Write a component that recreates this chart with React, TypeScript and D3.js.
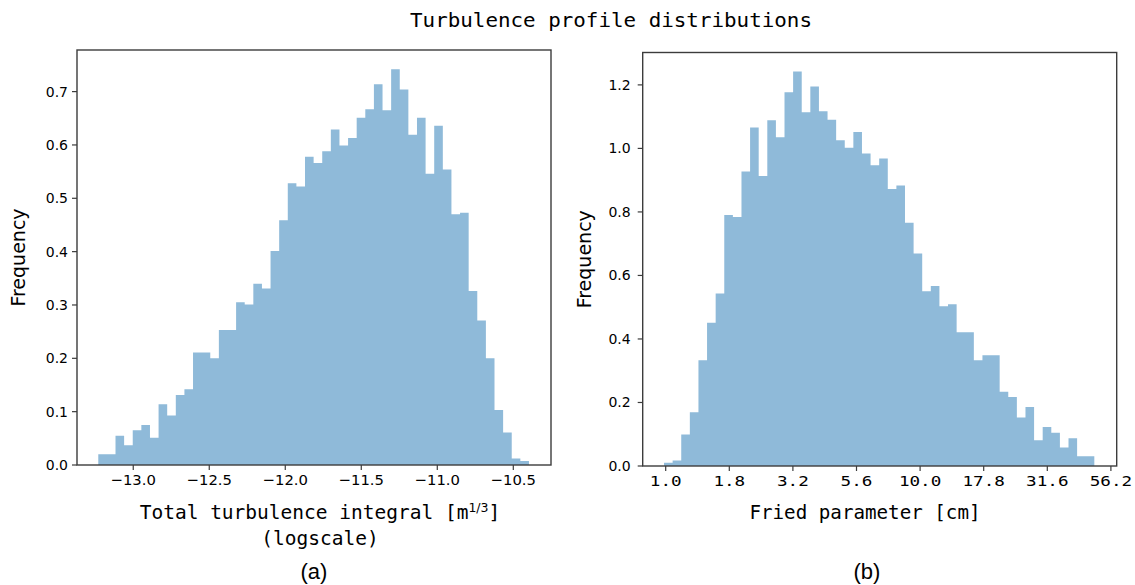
import React from "react"
import * as d3 from "d3"

// left panel: log10 of total turbulence integral, 50 bins
const leftBinStart = -13.23
const leftBinEnd = -10.397
const leftFreq = [
  0.02, 0.02, 0.055, 0.037, 0.065, 0.075, 0.051, 0.114, 0.093, 0.131,
  0.142, 0.211, 0.211, 0.2, 0.253, 0.253, 0.305, 0.301, 0.34, 0.331,
  0.401, 0.459, 0.528, 0.522, 0.578, 0.566, 0.588, 0.629, 0.599, 0.613,
  0.651, 0.667, 0.714, 0.665, 0.742, 0.704, 0.619, 0.651, 0.546, 0.636,
  0.554, 0.47, 0.473, 0.326, 0.271, 0.2, 0.103, 0.061, 0.012, 0.0075,
]
const leftXTicks = [-13, -12.5, -12, -11.5, -11, -10.5]
const leftYTicks = [0, 0.1, 0.2, 0.3, 0.4, 0.5, 0.6, 0.7]

// right panel: Fried parameter in cm, 50 log-spaced bins
const rightBinStart = 0.985
const rightBinEnd = 48.4
const rightFreq = [
  0.01, 0.017, 0.099, 0.169, 0.333, 0.451, 0.543, 0.79, 0.784, 0.927,
  1.066, 0.913, 1.089, 1.035, 1.177, 1.242, 1.114, 1.195, 1.117, 1.09,
  1.026, 1.002, 1.052, 0.984, 0.947, 0.968, 0.872, 0.883, 0.766, 0.669,
  0.55, 0.567, 0.503, 0.509, 0.421, 0.421, 0.333, 0.349, 0.349, 0.234,
  0.217, 0.153, 0.186, 0.081, 0.123, 0.105, 0.058, 0.087, 0.031, 0.031,
]
const rightXTickLabels = ["1.0", "1.8", "3.2", "5.6", "10.0", "17.8", "31.6", "56.2"]
const rightYTicks = [0, 0.2, 0.4, 0.6, 0.8, 1.0, 1.2]

const barColor = "#8fbad9"
const frameColor = "#3c3c3c"
const sans = "'DejaVu Sans', sans-serif"
const mono = "'DejaVu Sans Mono', monospace"

const fmt1 = d3.format(".1f")

type Pt = { x: number; y: number }

const histPath = (edges: number[], freq: number[], x: (v: number) => number, y: (v: number) => number) => {
  const pts: Pt[] = edges.map((e, i) => ({ x: x(e), y: y(i < freq.length ? freq[i] : freq[freq.length - 1]) }))
  const area = d3
    .area<Pt>()
    .x((d) => d.x)
    .y0(y(0))
    .y1((d) => d.y)
    .curve(d3.curveStepAfter)
  return area(pts) || ""
}

const LeftPanel = () => {
  const x = d3.scaleLinear().domain([-13.37, -10.252]).range([77, 551])
  const y = d3.scaleLinear().domain([0, 0.778]).range([465, 50])
  const edges = d3.range(leftFreq.length + 1).map((i) => leftBinStart + ((leftBinEnd - leftBinStart) * i) / leftFreq.length)
  const [x0, x1] = x.range()
  const [yb, yt] = y.range()
  return (
    <g>
      <path d={histPath(edges, leftFreq, x, y)} fill={barColor} />
      <rect x={x0} y={yt} width={x1 - x0} height={yb - yt} fill="none" stroke={frameColor} strokeWidth={1.4} />
      {leftYTicks.map((t) => (
        <g key={t}>
          <line x1={x0 - 5} x2={x0} y1={y(t)} y2={y(t)} stroke={frameColor} strokeWidth={1.2} />
          <text x={x0 - 9} y={y(t) + 5} textAnchor="end" fontFamily={sans} fontSize={14}>
            {fmt1(t)}
          </text>
        </g>
      ))}
      {leftXTicks.map((t) => (
        <g key={t}>
          <line x1={x(t)} x2={x(t)} y1={yb} y2={yb + 5} stroke={frameColor} strokeWidth={1.2} />
          <text x={x(t)} y={485} textAnchor="middle" fontFamily={sans} fontSize={14.8}>
            {fmt1(t)}
          </text>
        </g>
      ))}
      <text transform={`translate(25,${(yb + yt) / 2}) rotate(-90)`} textAnchor="middle" fontFamily={sans} fontSize={19}>
        Frequency
      </text>
      <text x={320} y={519} textAnchor="middle" fontFamily={mono} fontSize={19.5}>
        Total turbulence integral [m
        <tspan fontFamily={sans} fontSize={12.5} dy={-7}>1/3</tspan>
        <tspan dy={7}>]</tspan>
      </text>
      <text x={320} y={545} textAnchor="middle" fontFamily={mono} fontSize={19.5}>
        (logscale)
      </text>
      <text x={314} y={579} textAnchor="middle" fontFamily="'Liberation Sans', Arial, sans-serif" fontSize={22}>
        (a)
      </text>
    </g>
  )
}

const RightPanel = () => {
  const x = d3.scaleLog().domain([Math.pow(10, -0.0904), Math.pow(10, 1.7728)]).range([642.7, 1116.7])
  const y = d3.scaleLinear().domain([0, 1.302]).range([466, 52.5])
  const lo = Math.log10(rightBinStart)
  const hi = Math.log10(rightBinEnd)
  const edges = d3.range(rightFreq.length + 1).map((i) => Math.pow(10, lo + ((hi - lo) * i) / rightFreq.length))
  const [x0, x1] = x.range()
  const [yb, yt] = y.range()
  return (
    <g>
      <path d={histPath(edges, rightFreq, x, y)} fill={barColor} />
      <rect x={x0} y={yt} width={x1 - x0} height={yb - yt} fill="none" stroke={frameColor} strokeWidth={1.4} />
      {rightYTicks.map((t) => (
        <g key={t}>
          <line x1={x0 - 5} x2={x0} y1={y(t)} y2={y(t)} stroke={frameColor} strokeWidth={1.2} />
          <text x={x0 - 12} y={y(t) + 5} textAnchor="end" fontFamily={sans} fontSize={14}>
            {fmt1(t)}
          </text>
        </g>
      ))}
      {rightXTickLabels.map((label, i) => {
        const px = x(Math.pow(10, i / 4))
        return (
          <g key={label}>
            <line x1={px} x2={px} y1={yb} y2={yb + 5} stroke={frameColor} strokeWidth={1.2} />
            <text
              x={px}
              y={486}
              textAnchor="middle"
              fontFamily={mono}
              fontSize={14.5}
              textLength={label.length * 10.6}
              lengthAdjust="spacingAndGlyphs"
            >
              {label}
            </text>
          </g>
        )
      })}
      <text transform={`translate(591,${(yb + yt) / 2}) rotate(-90)`} textAnchor="middle" fontFamily={sans} fontSize={19}>
        Frequency
      </text>
      <text x={865} y={519} textAnchor="middle" fontFamily={mono} fontSize={19.2}>
        Fried parameter [cm]
      </text>
      <text x={867} y={579} textAnchor="middle" fontFamily="'Liberation Sans', Arial, sans-serif" fontSize={22}>
        (b)
      </text>
    </g>
  )
}

export default function App() {
  return (
    <svg
      width={1135}
      height={585}
      style={{ position: "absolute", left: 0, top: 0, background: "#fff" }}
    >
      <text
        x={611}
        y={27}
        textAnchor="middle"
        fontFamily={mono}
        fontSize={20}
        textLength={402}
        lengthAdjust="spacingAndGlyphs"
      >
        Turbulence profile distributions
      </text>
      <LeftPanel />
      <RightPanel />
    </svg>
  )
}
